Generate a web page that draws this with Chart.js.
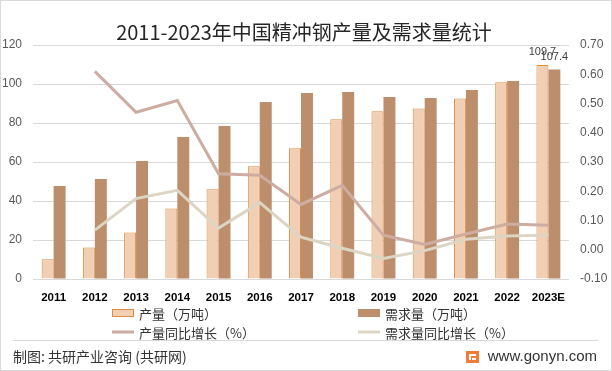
<!DOCTYPE html>
<html>
<head>
<meta charset="utf-8">
<script src="https://cdn.jsdelivr.net/npm/chart.js@4.4.0/dist/chart.umd.min.js"></script>
<style>
  html, body { margin: 0; padding: 0; background: #fff; }
  #wrap { width: 612px; height: 371px; }
</style>
</head>
<body>
<div id="wrap"><canvas id="barChart" width="612" height="371"></canvas></div>
<script>
// data
var years = ['2011', '2012', '2013', '2014', '2015', '2016', '2017', '2018', '2019', '2020', '2021', '2022', '2023E'];
var produksi = [10.1, 16.2, 23.9, 36.2, 46.0, 57.8, 67.0, 81.9, 86.0, 87.5, 92.6, 100.9, 109.7];
var permintaan = [47.7, 51.3, 60.5, 72.8, 78.5, 90.8, 95.4, 95.9, 93.3, 92.8, 96.9, 101.5, 107.4];
var produksiYoY = [null, 0.61, 0.47, 0.51, 0.26, 0.255, 0.155, 0.22, 0.05, 0.018, 0.054, 0.088, 0.084];
var permintaanYoY = [null, 0.067, 0.175, 0.203, 0.074, 0.161, 0.043, 0.005, -0.03, -0.003, 0.036, 0.047, 0.05];
var leftTicks = [0, 120, 20];
var rightTicks = [-0.1, 0.7, 0.1];

var judul = '2011-2023年中国精冲钢产量及需求量统计';
var sumber = '制图: 共研产业咨询 (共研网)';
var situs = 'www.gonyn.com';

var fontLatin = '"Liberation Sans", "Noto Sans CJK SC", sans-serif';
var fontCJK = '"Noto Sans CJK SC", "Liberation Sans", sans-serif';

// plugin untuk judul, legenda, footer, label data
var hiasan = {
    id: 'hiasan',
    beforeDraw: function(chart) {
        var ctx = chart.ctx;
        ctx.save();
        ctx.fillStyle = '#fff';
        ctx.fillRect(0, 0, chart.width, chart.height);
        ctx.restore();
    },
    afterDatasetsDraw: function(chart) {
        var ctx = chart.ctx;
        var last = years.length - 1;
        ctx.save();
        ctx.font = '11px ' + fontLatin;
        ctx.fillStyle = '#404040';
        ctx.textAlign = 'center';
        ctx.textBaseline = 'middle';
        [0, 1].forEach(function(i) {
            var el = chart.getDatasetMeta(i).data[last];
            var v = chart.data.datasets[i].data[last];
            ctx.fillText(v.toFixed(1), el.x, el.y - 13);
        });
        ctx.restore();
    },
    afterDraw: function(chart) {
        var ctx = chart.ctx;
        var ds = chart.data.datasets;
        ctx.save();

        // bingkai
        ctx.strokeStyle = '#d9d9d9';
        ctx.lineWidth = 1;
        ctx.strokeRect(0.5, 0.5, chart.width - 1, chart.height - 1);

        // judul
        ctx.fillStyle = '#262626';
        ctx.font = '20px ' + fontCJK;
        ctx.textAlign = 'center';
        ctx.textBaseline = 'middle';
        ctx.fillText(judul, 304, 32);

        // legenda
        var kolom = [112, 358];
        var baris = [313, 332];
        ctx.font = '13px ' + fontCJK;
        ctx.textAlign = 'left';
        ds.forEach(function(d, i) {
            var x = kolom[i % 2];
            var y = baris[Math.floor(i / 2)];
            if (d.type === 'line') {
                ctx.strokeStyle = d.borderColor;
                ctx.lineWidth = 3;
                ctx.beginPath();
                ctx.moveTo(x, y);
                ctx.lineTo(x + 22, y);
                ctx.stroke();
            } else {
                ctx.fillStyle = d.backgroundColor;
                ctx.fillRect(x, y - 4, 22, 8);
                if (d.borderWidth) {
                    ctx.strokeStyle = d.borderColor;
                    ctx.lineWidth = 1;
                    ctx.strokeRect(x + 0.5, y - 3.5, 21, 7);
                }
            }
            ctx.fillStyle = '#333';
            ctx.fillText(d.label, x + 27, y + 1);
        });

        // garis pemisah footer
        ctx.strokeStyle = '#d9d9d9';
        ctx.lineWidth = 1;
        ctx.beginPath();
        ctx.moveTo(13, 340.5);
        ctx.lineTo(598, 340.5);
        ctx.stroke();

        // footer kiri
        ctx.fillStyle = '#333';
        ctx.font = '14px ' + fontCJK;
        ctx.fillText(sumber, 13, 357);

        // logo
        ctx.fillStyle = '#F07C3A';
        ctx.fillRect(466, 351, 13, 12);
        ctx.fillStyle = '#fff';
        ctx.fillRect(469, 354, 7, 2);
        ctx.fillRect(469, 356, 2, 4);
        ctx.fillRect(472, 358, 4, 2);

        // situs
        ctx.fillStyle = '#333';
        ctx.font = '15px ' + fontLatin;
        ctx.textAlign = 'right';
        ctx.fillText(situs, 597, 357);
        ctx.restore();
    }
};

function buatGrafik() {
    var ctx = document.getElementById('barChart').getContext('2d');
    var grafik = new Chart(ctx, {
        type: 'bar',
        data: {
            labels: years,
            datasets: [{
                type: 'bar',
                label: '产量（万吨）',
                data: produksi,
                yAxisID: 'y',
                backgroundColor: '#F1CFB4',
                borderColor: '#E08B3E',
                borderWidth: 1,
                borderSkipped: 'bottom',
                order: 2
            }, {
                type: 'bar',
                label: '需求量（万吨）',
                data: permintaan,
                yAxisID: 'y',
                backgroundColor: '#BC8E6C',
                borderWidth: 0,
                order: 2
            }, {
                type: 'line',
                label: '产量同比增长（%）',
                data: produksiYoY,
                yAxisID: 'y1',
                borderColor: '#CDADA1',
                borderWidth: 3,
                pointRadius: 0,
                tension: 0,
                fill: false,
                order: 0
            }, {
                type: 'line',
                label: '需求量同比增长（%）',
                data: permintaanYoY,
                yAxisID: 'y1',
                borderColor: '#DDD5C4',
                borderWidth: 3,
                pointRadius: 0,
                tension: 0,
                fill: false,
                order: 1
            }]
        },
        options: {
            responsive: false,
            animation: false,
            datasets: {
                bar: { barPercentage: 1, categoryPercentage: 0.58 }
            },
            layout: { padding: { top: 45, bottom: 58, left: 0, right: 0 } },
            scales: {
                x: {
                    grid: { display: false, drawTicks: false },
                    border: { display: false },
                    ticks: {
                        color: '#000',
                        padding: 12,
                        maxRotation: 0,
                        autoSkip: false,
                        font: { family: fontLatin, size: 11.5, weight: 'bold' }
                    },
                    afterFit: function(scale) { scale.height = 34; }
                },
                y: {
                    position: 'left',
                    min: leftTicks[0],
                    max: leftTicks[1],
                    grid: { color: '#d9d9d9', drawTicks: false },
                    border: { display: false },
                    ticks: {
                        stepSize: leftTicks[2],
                        color: '#595959',
                        padding: 11,
                        font: { family: fontLatin, size: 12 }
                    },
                    afterFit: function(scale) { scale.width = 33; }
                },
                y1: {
                    position: 'right',
                    min: rightTicks[0],
                    max: rightTicks[1],
                    grid: { display: false, drawTicks: false },
                    border: { display: false },
                    ticks: {
                        stepSize: rightTicks[2],
                        color: '#595959',
                        padding: 11,
                        font: { family: fontLatin, size: 12 },
                        callback: function(v) {
                            if (Math.abs(v) < 1e-9) return '0.00';
                            return v.toFixed(2);
                        }
                    },
                    afterFit: function(scale) { scale.width = 43; }
                }
            },
            plugins: {
                legend: { display: false },
                title: { display: false },
                tooltip: { enabled: false }
            }
        },
        plugins: [hiasan]
    });
    return grafik;
}

buatGrafik();
</script>
</body>
</html>
